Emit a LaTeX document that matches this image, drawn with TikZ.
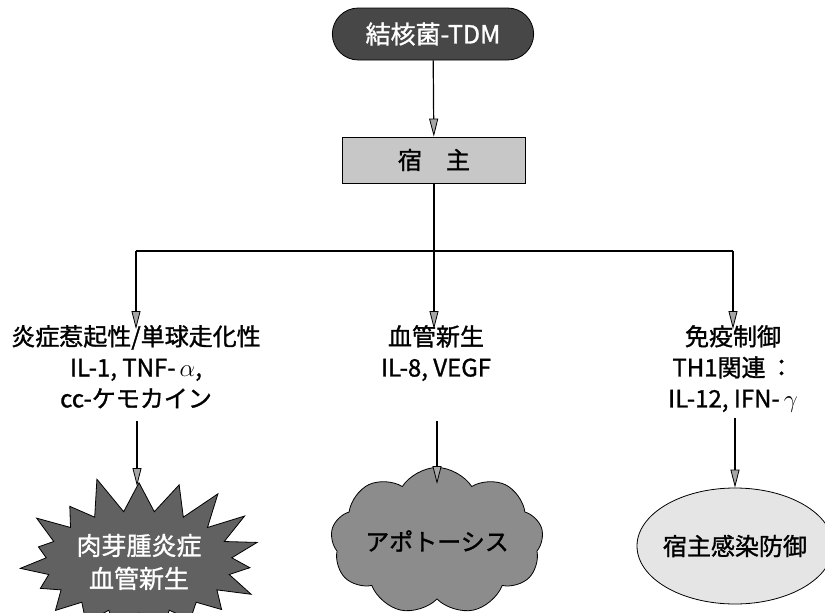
\documentclass[tikz,border=0pt]{standalone}
\usepackage{fontspec}
\setmainfont{Noto Sans CJK JP}[FakeBold=1.2]
\usetikzlibrary{shapes.symbols,shapes.geometric,shapes.misc,arrows.meta}
\tikzset{
  arr/.style={draw=black, line width=1.2pt, -{Triangle[length=18pt,width=9pt,line width=0.8pt,fill=gray!70]}},
  ln/.style={draw=black, line width=1.2pt},
  lab/.style={align=center, font=\fontsize{24}{31}\selectfont, inner sep=0pt, anchor=north},
  pill/.style={rounded rectangle, fill=black!72, draw=black, line width=0.8pt, minimum width=208pt, minimum height=52pt, text=white, font=\fontsize{25}{27}\selectfont},
  hostbox/.style={rectangle, fill=black!22, draw=black, line width=0.8pt, minimum width=183pt, minimum height=46pt, font=\fontsize{24}{27}\selectfont},
  burst/.style={starburst, starburst points=19, starburst point height=38pt, random starburst=11, fill=black!62, draw=black, line width=0.8pt, minimum width=258pt, minimum height=178pt, text=white, align=center, font=\fontsize{25}{33}\selectfont},
  cloudy/.style={cloud, cloud puffs=9, cloud puff arc=115, aspect=1.75, fill=black!45, draw=black, line width=0.8pt, inner sep=0pt, minimum width=194pt, minimum height=116pt, font=\fontsize{24}{27}\selectfont},
  oval/.style={ellipse, fill=black!10, draw=black, line width=0.8pt, inner sep=0pt, minimum width=196pt, minimum height=116pt},
  ovaltext/.style={inner sep=0pt, font=\fontsize{24}{27}\selectfont},
}
\begin{document}
\begin{tikzpicture}[x=1pt,y=-1pt]
\useasboundingbox (0,0) rectangle (825,613);
\clip (0,0) rectangle (825,613);
\node[pill] (tdm) at (433,34) {結核菌-TDM};
\node[hostbox] (host) at (434,160) {宿\quad 主};
\draw[arr] (tdm) -- (host);
\coordinate (jm) at (434,251);
\coordinate (jl) at (136,251);
\coordinate (jr) at (733,251);
\node[lab] (l1) at (136,325) {炎症惹起性/単球走化性\\IL-1, TNF-\,$\alpha$,\\cc-ケモカイン};
\node[lab] (l2) at (436,325) {血管新生\\IL-8, VEGF};
\node[lab] (l3) at (733,325) {免疫制御\\TH1関連\,：\\IL-12, IFN-\,$\gamma$};
\draw[ln] (host.south) -- (jm);
\draw[ln] (jl) -- (jr);
\draw[arr] (jl) -- ([yshift=-4pt]l1.north);
\draw[arr] (jm) -- ([yshift=-4pt]l2.north-|jm);
\draw[arr] (jr) -- ([yshift=-4pt]l3.north);
\node[burst] (b1) at (139,562) {肉芽腫炎症\\血管新生};
\node[cloudy] (c2) at (437,541) {アポトーシス};
\node[oval] (e3) at (735,546) {};
\node[ovaltext] (e3t) at (735,546) {宿主感染防御};
\coordinate (s1) at (137,421);
\coordinate (t1) at (137,486);
\coordinate (s2) at (437,421);
\coordinate (t2) at (437,484);
\coordinate (s3) at (735,418);
\draw[arr] (s1) -- (t1);
\draw[arr] (s2) -- (t2);
\draw[arr] (s3) -- (e3.north);
\end{tikzpicture}
\end{document}
